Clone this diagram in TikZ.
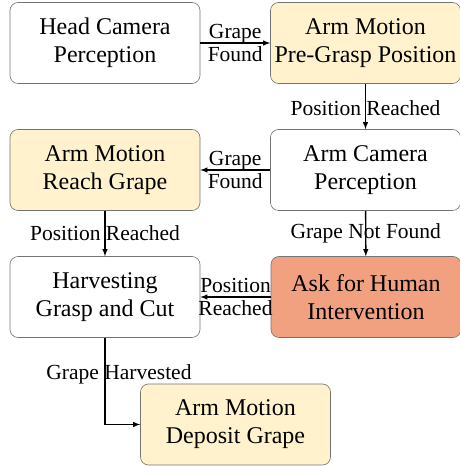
\documentclass[tikz,border=0pt]{standalone}
\usepackage{fontspec}
\setmainfont{Liberation Serif}
\usepackage{tikz}
\usetikzlibrary{calc,arrows}
\definecolor{motionyellow}{RGB}{255,242,204}
\definecolor{humanred}{RGB}{241,161,128}

\begin{document}
\begin{tikzpicture}[x=1pt,y=1pt,
  state/.style={draw=black!55, line width=0.6pt, rounded corners=8pt, minimum width=190pt, minimum height=81pt, align=center, inner sep=0pt, font=\fontsize{24}{28}\selectfont},
  trans/.style={-latex, line width=1.4pt},
  lbl/.style={align=center, inner sep=0pt, font=\fontsize{21.5}{23}\selectfont}]
\useasboundingbox (0,0) rectangle (460,466);
\node[state] (head) at (105,423) {Head Camera\\Perception};
\node[state, fill=motionyellow] (pregrasp) at (365.5,423) {Arm Motion\\Pre-Grasp Position};
\node[state] (armcam) at (365.5,296) {Arm Camera\\Perception};
\node[state, fill=motionyellow] (reach) at (105,296) {Arm Motion\\Reach Grape};
\node[state] (harvest) at (105,169) {Harvesting\\Grasp and Cut};
\node[state, fill=humanred] (human) at (366,169) {Ask for Human\\Intervention};
\node[state, fill=motionyellow] (deposit) at (235.5,41.5) {Arm Motion\\Deposit Grape};
\draw[trans] (head) -- node[lbl] {Grape\\Found} (pregrasp);
\draw[trans] (pregrasp) -- node[lbl, yshift=-2pt] {Position Reached} (armcam);
\draw[trans] (armcam) -- node[lbl] {Grape\\Found} (reach);
\draw[trans] (reach) -- node[lbl] {Position Reached} (harvest);
\draw[trans] (armcam) -- node[lbl] {Grape Not Found} (human);
\draw[trans] (human) -- node[lbl] {Position\\Reached} (harvest);
\draw[trans] (harvest.south) |- node[lbl, pos=0.2, xshift=14pt, yshift=-2pt] {Grape Harvested} (deposit.west);
\end{tikzpicture}
\end{document}
